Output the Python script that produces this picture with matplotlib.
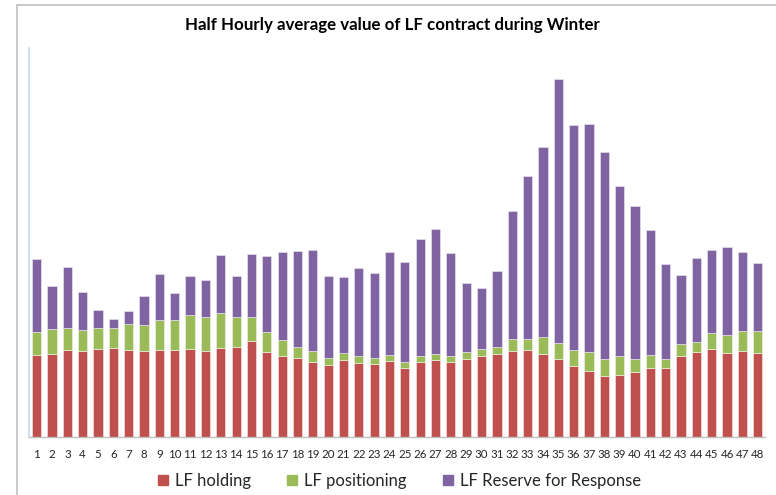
import matplotlib.pyplot as plt
import numpy as np
from matplotlib.patches import Rectangle

plt.rcParams['font.family'] = ['Lato', 'DejaVu Sans']

# half hour periods
periods = list(range(1, 49))

# values (no y scale shown, arbitrary units)
lf_holding = [82, 83.3, 87.3, 86, 87.7, 88.7, 87, 86.3, 87.3, 87, 87.7, 86.3,
              89, 90.3, 95.7, 84.7, 81.3, 78.7, 75.3, 71.7, 77, 74, 73, 76.3,
              69.3, 75.3, 77, 74.7, 78, 81.3, 82.7, 86.3, 87, 82.7, 77.7, 71,
              65.7, 61, 62.3, 65.3, 68.7, 69, 81.3, 85, 87.7, 84.3, 85.7, 84.3]
lf_positioning = [23.3, 25, 22, 21.3, 21.6, 20.3, 26, 25.7, 29.7, 30, 34.3, 33.7,
                  35.3, 29.4, 24, 20.6, 15.4, 11.3, 10.4, 7.3, 7, 7, 6, 5.4,
                  5.4, 6, 6.3, 6.6, 6.7, 6.7, 7.6, 11.4, 10.7, 17.3, 16.6, 16.3,
                  19.3, 17, 18.7, 13, 13.3, 9, 11.7, 10.3, 16, 18, 20.6, 22]
lf_reserve = [72.4, 43, 60.7, 37.4, 18, 8.7, 13.3, 29.3, 46.3, 27, 39.3, 37.3,
              58, 41.6, 63.6, 76.2, 88, 96.3, 101.6, 81.7, 76, 87.7, 84.7, 103.6,
              100.6, 117, 124.4, 102.7, 69.6, 61, 75.7, 128.6, 163.6, 190.3, 264, 225,
              228, 207, 169.7, 152.7, 124.7, 95, 69.3, 84, 83.3, 87.4, 79, 67.4]

c_hold = '#C0504D'
c_pos = '#9BBB59'
c_res = '#8064A2'

fig = plt.figure(figsize=(7.76, 4.95), dpi=100)
# chart border like the excel chart area
fig.patches.append(Rectangle((17 / 776, -0.1), 1.2, 1 - 5 / 495 + 0.1,
                             transform=fig.transFigure, fill=False,
                             edgecolor='#BFBFBF', linewidth=1.2))

ax = fig.add_axes([29 / 776, 1 - 437 / 495, (765.4 - 29) / 776, (437 - 48) / 495])

x = np.array(periods)
hold = np.array(lf_holding)
pos = np.array(lf_positioning)
res = np.array(lf_reserve)

ax.bar(x, hold, width=0.6, color=c_hold, edgecolor='#F2DCDB', linewidth=0.5)
ax.bar(x, pos, width=0.6, bottom=hold, color=c_pos, edgecolor='#EBF1DE', linewidth=0.5)
ax.bar(x, res, width=0.6, bottom=hold + pos, color=c_res, edgecolor='#E5E0EC', linewidth=0.5)

ax.set_xlim(0.5, 48.5)
ax.set_ylim(0, 389)
ax.set_xticks(x)
ax.set_xticklabels([str(p) for p in periods], fontsize=8.3, color='#262626')
ax.tick_params(axis='x', length=0, pad=9)
ax.set_yticks([])

for s in ['top', 'right']:
    ax.spines[s].set_visible(False)
ax.spines['left'].set_color('#C6D9F1')
ax.spines['left'].set_linewidth(1.2)
ax.spines['bottom'].set_color('#BFBFBF')
ax.spines['bottom'].set_linewidth(1.0)

fig.text(0.506, 1 - 25 / 495, 'Half Hourly average value of LF contract during Winter',
         ha='center', va='center', fontsize=12.2, fontweight='bold', color='#000000')

handles = [Rectangle((0, 0), 1, 1, color=c_hold),
           Rectangle((0, 0), 1, 1, color=c_pos),
           Rectangle((0, 0), 1, 1, color=c_res)]
fig.legend(handles, ['LF holding', 'LF positioning', 'LF Reserve for Response'],
           loc='center', bbox_to_anchor=(0.515, 1 - 481 / 495), ncol=3, frameon=False,
           fontsize=12, handlelength=0.6, handleheight=0.6, handletextpad=0.4,
           columnspacing=2.2, labelcolor='#262626')

fig.savefig('out.png', dpi=100)
